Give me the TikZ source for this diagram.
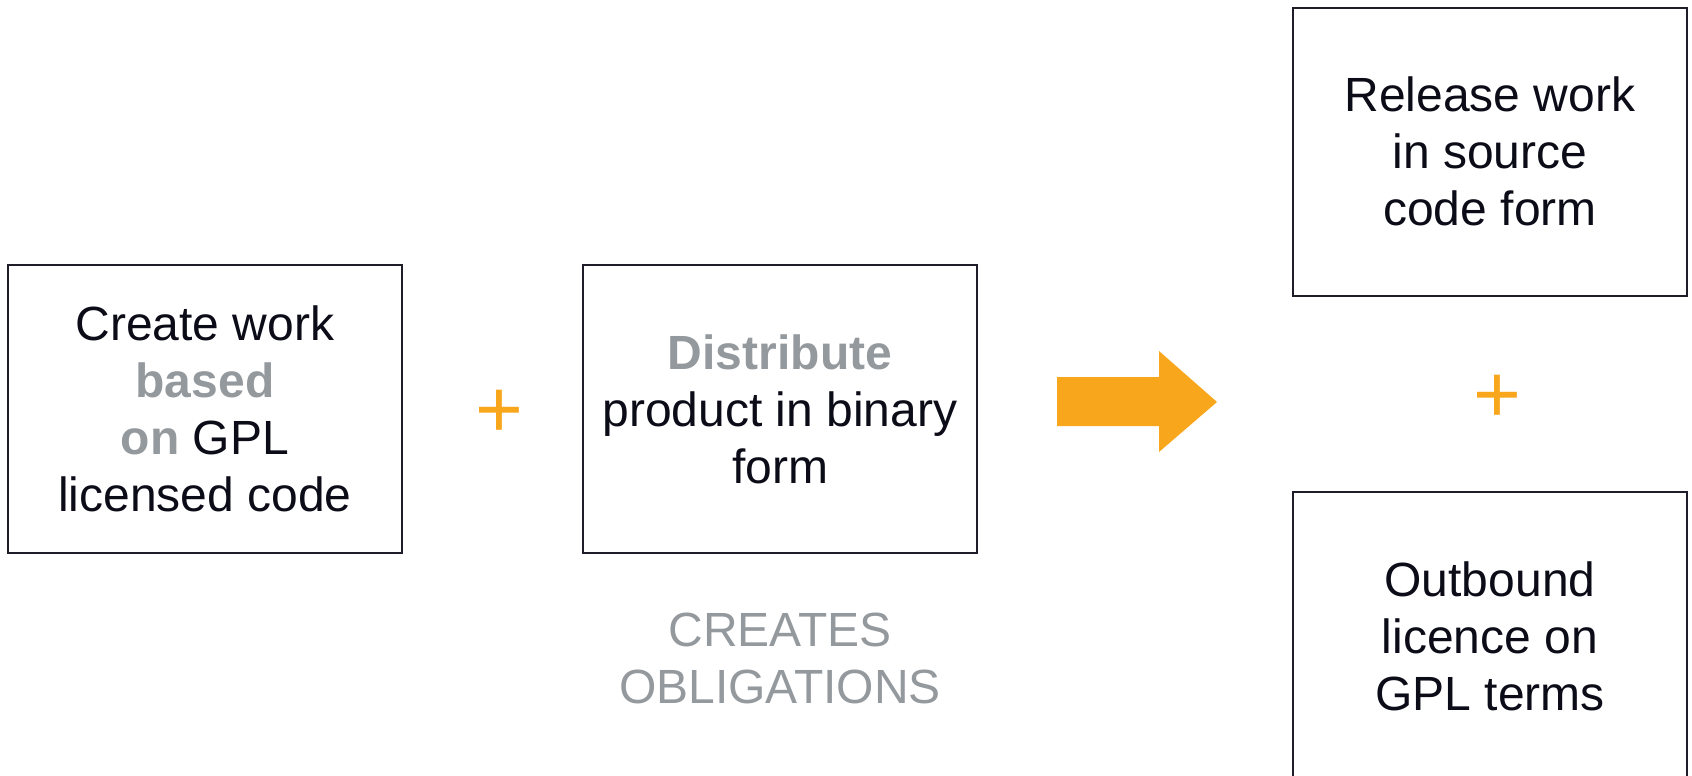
\documentclass[tikz,border=0pt]{standalone}
\usepackage{fontspec}
\setmainfont{Liberation Sans}
\usepackage{xcolor}
\usepackage{tikz}
\usetikzlibrary{arrows.meta}

\definecolor{gplorange}{RGB}{248,166,28}
\definecolor{gplgray}{RGB}{148,153,158}
\definecolor{gplink}{RGB}{12,12,24}
\definecolor{gplframe}{RGB}{30,30,42}

\newcommand{\grb}[1]{\textcolor{gplgray}{\textbf{#1}}}

\tikzset{
  stepbox/.style={draw=gplframe, line width=1pt, minimum width=197pt, minimum height=144pt,
    inner sep=0pt, align=center, text=gplink, font=\fontsize{24}{28.5}\selectfont},
  plussign/.style={text=gplorange, inner sep=0pt, font=\fontsize{41}{41}\selectfont},
}

\begin{document}
\begin{tikzpicture}[x=0.5pt,y=0.5pt,yscale=-1,xscale=1]
		\useasboundingbox (0,0) rectangle (1692,776);
		\clip (0,0) rectangle (1692,776);
		
		%Boxes
		\node [stepbox] (create) at (205,409) {Create work\\\grb{based}\\\grb{on} GPL\\licensed code};
		\node [stepbox] (distribute) at (780,409) {\grb{Distribute}\\product in binary\\form};
		\node [stepbox] (release) at (1490,151.5) {Release work\\in source\\code form};
		\node [stepbox] (outbound) at (1490,636) {Outbound\\licence on\\GPL terms};
		
		%Plus signs
		\node [plussign] (plusA) at (499.5,414) {+};
		\node [plussign] (plusB) at (1497,399) {+};
		
		%Block arrow
		\fill [gplorange] (1057,377) -- (1159,377) -- (1159,351) -- (1217,402) -- (1159,452) -- (1159,426) -- (1057,426) -- cycle ;
		
		% Text Node
		\node [text=gplgray, align=center, inner sep=0pt, font=\fontsize{24}{28.5}\selectfont] (oblig) at (780,658) {CREATES\\OBLIGATIONS};
		
	\end{tikzpicture}
\end{document}
